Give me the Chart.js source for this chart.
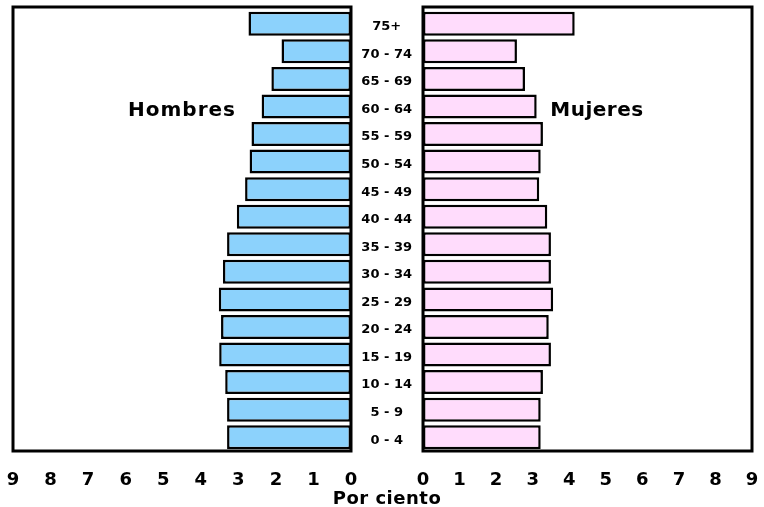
<!DOCTYPE html>
<html>
<head>
<meta charset="utf-8">
<script src="https://cdn.jsdelivr.net/npm/chart.js@4.4.0/dist/chart.umd.min.js"></script>
<style>
  body { margin: 0; background: #fff; }
  #wrap { position: relative; width: 764px; height: 507px; font-family: "DejaVu Sans", Verdana, sans-serif; font-weight: bold; }
  canvas { position: absolute; top: 0; }
  .lbl { position: absolute; color: #000; white-space: nowrap; transform: translate(-50%, -50%); }
</style>
</head>
<body>
<div id="wrap">
  <canvas id="men" width="362" height="507" style="left:0"></canvas>
  <canvas id="women" width="409" height="507" style="left:355px"></canvas>
  <div class="lbl" style="left:182px; top:109px; font-size:20px; letter-spacing:1px">Hombres</div>
  <div class="lbl" style="left:597px; top:109px; font-size:20px; letter-spacing:0.5px">Mujeres</div>
  <div class="lbl" style="left:387px; top:497px; font-size:18px; letter-spacing:0.5px">Por ciento</div>
</div>
<script>
// age groups, youngest first
let ageGroups = ["0 - 4", "5 - 9", "10 - 14", "15 - 19", "20 - 24", "25 - 29", "30 - 34", "35 - 39",
                 "40 - 44", "45 - 49", "50 - 54", "55 - 59", "60 - 64", "65 - 69", "70 - 74", "75+"];
// percent of population
let hombres = [3.3, 3.3, 3.35, 3.51, 3.46, 3.52, 3.41, 3.3, 3.04, 2.82, 2.7, 2.65, 2.38, 2.12, 1.85, 2.73];
let mujeres = [3.22, 3.22, 3.28, 3.5, 3.44, 3.56, 3.5, 3.5, 3.4, 3.18, 3.22, 3.28, 3.11, 2.79, 2.57, 4.15];
let xMax = 9;

let font = "'DejaVu Sans', Verdana, sans-serif";
let frameTop = 7;

// draws the black frame round the plot area (a little above the first bar)
let frame = {
    id: "frame",
    afterDatasetsDraw(chart) {
        let a = chart.chartArea;
        let c = chart.ctx;
        c.save();
        c.strokeStyle = "#000";
        c.lineWidth = 3;
        c.strokeRect(a.left, frameTop, a.right - a.left, a.bottom - frameTop);
        c.restore();
    }
};

function makeChart(id, values, color, left) {
    return new Chart(document.getElementById(id).getContext("2d"), {
        type: "bar",
        data: {
            labels: ageGroups,
            datasets: [{
                data: values,
                backgroundColor: color,
                borderColor: "#000",
                borderWidth: 2.5,
                borderSkipped: false,
                barPercentage: 0.87,
                categoryPercentage: 1
            }]
        },
        options: {
            responsive: false,
            animation: false,
            indexAxis: "y",
            layout: {
                padding: left ? { left: 13, right: 11, top: 10, bottom: 0 }
                              : { left: 0, right: 12, top: 10, bottom: 0 }
            },
            plugins: { legend: { display: false }, tooltip: { enabled: false } },
            scales: {
                x: {
                    min: 0,
                    max: xMax,
                    reverse: left,
                    grid: { display: false, drawTicks: false },
                    border: { display: false },
                    afterFit: (s) => {
                        s.height = 56;
                        s.paddingLeft = 0;
                        s.paddingRight = 0;
                    },
                    ticks: {
                        stepSize: 1,
                        padding: 19,
                        color: "#000",
                        font: { family: font, size: 18, weight: "bold" }
                    }
                },
                y: {
                    reverse: true,
                    display: !left,
                    grid: { display: false, drawTicks: false },
                    border: { display: false },
                    afterFit: (s) => {
                        if (!left) s.width = 68;
                        s.paddingTop = 0;
                        s.paddingBottom = 0;
                    },
                    ticks: {
                        crossAlign: "center",
                        padding: 11,
                        labelOffset: 3,
                        color: "#000",
                        font: { family: font, size: 13, weight: "bold" }
                    }
                }
            }
        },
        plugins: [frame]
    });
}

makeChart("men", hombres, "#8cd2fc", true);
makeChart("women", mujeres, "#ffdcfc", false);
</script>
</body>
</html>
